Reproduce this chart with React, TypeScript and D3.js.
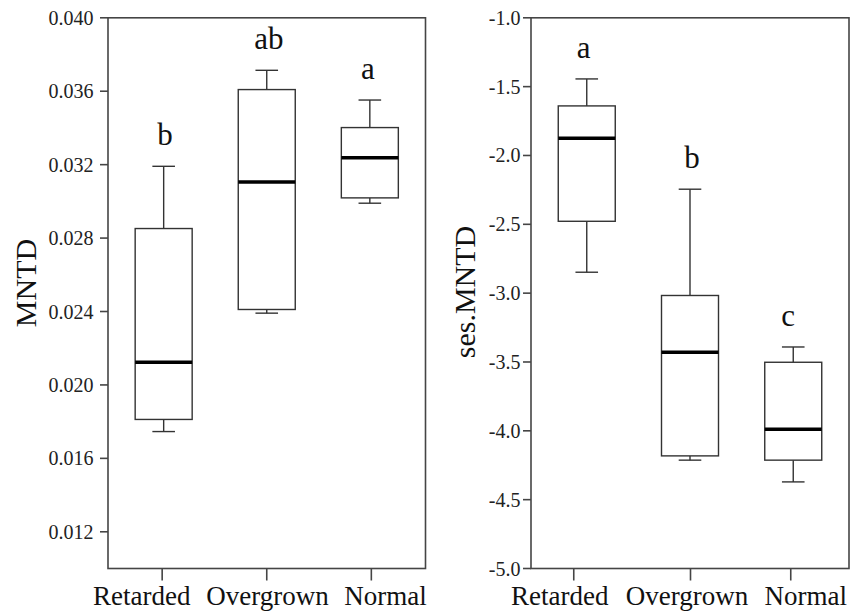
import React from "react";
import * as d3 from "d3";

const categories = ["Retarded", "Overgrown", "Normal"];

// Left panel: MNTD
const mntdMin = [0.01746, 0.02391, 0.0299];
const mntdQ1 = [0.01812, 0.02411, 0.03019];
const mntdMedian = [0.02124, 0.03106, 0.03237];
const mntdQ3 = [0.02852, 0.03609, 0.03402];
const mntdMax = [0.03191, 0.03714, 0.03552];
const mntdLetters = ["b", "ab", "a"];
const mntdTicks = [0.012, 0.016, 0.02, 0.024, 0.028, 0.032, 0.036, 0.04];

// Right panel: ses.MNTD
const sesMin = [-2.848, -4.213, -4.371];
const sesQ1 = [-2.478, -4.182, -4.213];
const sesMedian = [-1.875, -3.429, -3.988];
const sesQ3 = [-1.64, -3.017, -3.502];
const sesMax = [-1.444, -2.245, -3.391];
const sesLetters = ["a", "b", "c"];
const sesTicks = [-5.0, -4.5, -4.0, -3.5, -3.0, -2.5, -2.0, -1.5, -1.0];

const FONT = "'Liberation Serif', 'Times New Roman', serif";

type PanelProps = {
  left: number;
  right: number;
  top: number;
  bottom: number;
  domain: [number, number];
  ticks: number[];
  fmt: (v: number) => string;
  mins: number[];
  q1: number[];
  med: number[];
  q3: number[];
  maxs: number[];
  letters: string[];
  yLabel: string;
  yLabelX: number;
  yLabelY: number;
  tickLabelGap: number;
  tickDx: number[];
  labelDx: number[];
  letterDx: number[];
};

function Panel(p: PanelProps) {
  const y = d3.scaleLinear().domain(p.domain).range([p.bottom, p.top]);
  const x = d3
    .scalePoint<string>()
    .domain(categories)
    .range([p.left, p.right])
    .padding(0.54);
  const boxW = 57;
  const capW = 22.6;
  const frameColor = "#454545";
  const boxColor = "#333";
  return (
    <g>
      <rect
        x={p.left}
        y={p.top}
        width={p.right - p.left}
        height={p.bottom - p.top}
        fill="none"
        stroke={frameColor}
        strokeWidth={1.6}
      />
      {p.ticks.map((t, i) => (
        <g key={"yt" + i}>
          <line
            x1={p.left - 8}
            x2={p.left}
            y1={y(t)}
            y2={y(t)}
            stroke={frameColor}
            strokeWidth={1.6}
          />
          <text
            x={p.left - p.tickLabelGap}
            y={y(t)}
            dy="0.35em"
            textAnchor="end"
            fontFamily={FONT}
            fontSize={20}
            fill="#222"
          >
            {p.fmt(t)}
          </text>
        </g>
      ))}
      {categories.map((c, i) => {
        const cx = x(c)!;
        return (
          <g key={"xt" + i}>
            <line
              x1={cx + p.tickDx[i]}
              x2={cx + p.tickDx[i]}
              y1={p.bottom}
              y2={p.bottom + 12}
              stroke={frameColor}
              strokeWidth={1.6}
            />
            <text
              x={cx + p.labelDx[i]}
              y={605}
              textAnchor="middle"
              fontFamily={FONT}
              fontSize={27}
              fill="#111"
            >
              {c}
            </text>
          </g>
        );
      })}
      {categories.map((c, i) => {
        const cx = x(c)!;
        return (
          <g key={"bx" + i}>
            <line x1={cx} x2={cx} y1={y(p.maxs[i])} y2={y(p.q3[i])} stroke={boxColor} strokeWidth={1.4} />
            <line x1={cx} x2={cx} y1={y(p.q1[i])} y2={y(p.mins[i])} stroke={boxColor} strokeWidth={1.4} />
            <line
              x1={cx - capW / 2}
              x2={cx + capW / 2}
              y1={y(p.maxs[i])}
              y2={y(p.maxs[i])}
              stroke={boxColor}
              strokeWidth={1.4}
            />
            <line
              x1={cx - capW / 2}
              x2={cx + capW / 2}
              y1={y(p.mins[i])}
              y2={y(p.mins[i])}
              stroke={boxColor}
              strokeWidth={1.4}
            />
            <rect
              x={cx - boxW / 2}
              y={y(p.q3[i])}
              width={boxW}
              height={y(p.q1[i]) - y(p.q3[i])}
              fill="#fff"
              stroke={boxColor}
              strokeWidth={1.4}
            />
            <line
              x1={cx - boxW / 2}
              x2={cx + boxW / 2}
              y1={y(p.med[i])}
              y2={y(p.med[i])}
              stroke="#000"
              strokeWidth={3.5}
            />
            <text
              x={cx + p.letterDx[i]}
              y={y(p.maxs[i]) - 21}
              textAnchor="middle"
              fontFamily={FONT}
              fontSize={31}
              fill="#111"
            >
              {p.letters[i]}
            </text>
          </g>
        );
      })}
      <text
        transform={`translate(${p.yLabelX},${p.yLabelY}) rotate(-90)`}
        textAnchor="middle"
        dy="0.35em"
        fontFamily={FONT}
        fontSize={30}
        fill="#111"
      >
        {p.yLabel}
      </text>
    </g>
  );
}

export default function App() {
  return (
    <svg
      width={862}
      height={611}
      style={{ position: "absolute", left: 0, top: 0, background: "#fff" }}
    >
      <rect width={862} height={611} fill="#fff" />
      <Panel
        left={108}
        right={425.5}
        top={17.8}
        bottom={568.5}
        domain={[0.01, 0.04]}
        ticks={mntdTicks}
        fmt={(v) => v.toFixed(3)}
        mins={mntdMin}
        q1={mntdQ1}
        med={mntdMedian}
        q3={mntdQ3}
        maxs={mntdMax}
        letters={mntdLetters}
        yLabel="MNTD"
        yLabelX={25}
        yLabelY={283}
        tickLabelGap={14.5}
        tickDx={[-1.5, 0, 1.5]}
        labelDx={[-22, 0.7, 15.6]}
        letterDx={[1.3, 2.2, -2]}
      />
      <Panel
        left={531}
        right={849}
        top={17.8}
        bottom={568.5}
        domain={[-5, -1]}
        ticks={sesTicks}
        fmt={(v) => v.toFixed(1)}
        mins={sesMin}
        q1={sesQ1}
        med={sesMedian}
        q3={sesQ3}
        maxs={sesMax}
        letters={sesLetters}
        yLabel="ses.MNTD"
        yLabelX={464}
        yLabelY={292}
        tickLabelGap={10.5}
        tickDx={[-13, 0.5, -2.5]}
        labelDx={[-27, -3, 12.5]}
        letterDx={[-3, 2, -5]}
      />
    </svg>
  );
}
